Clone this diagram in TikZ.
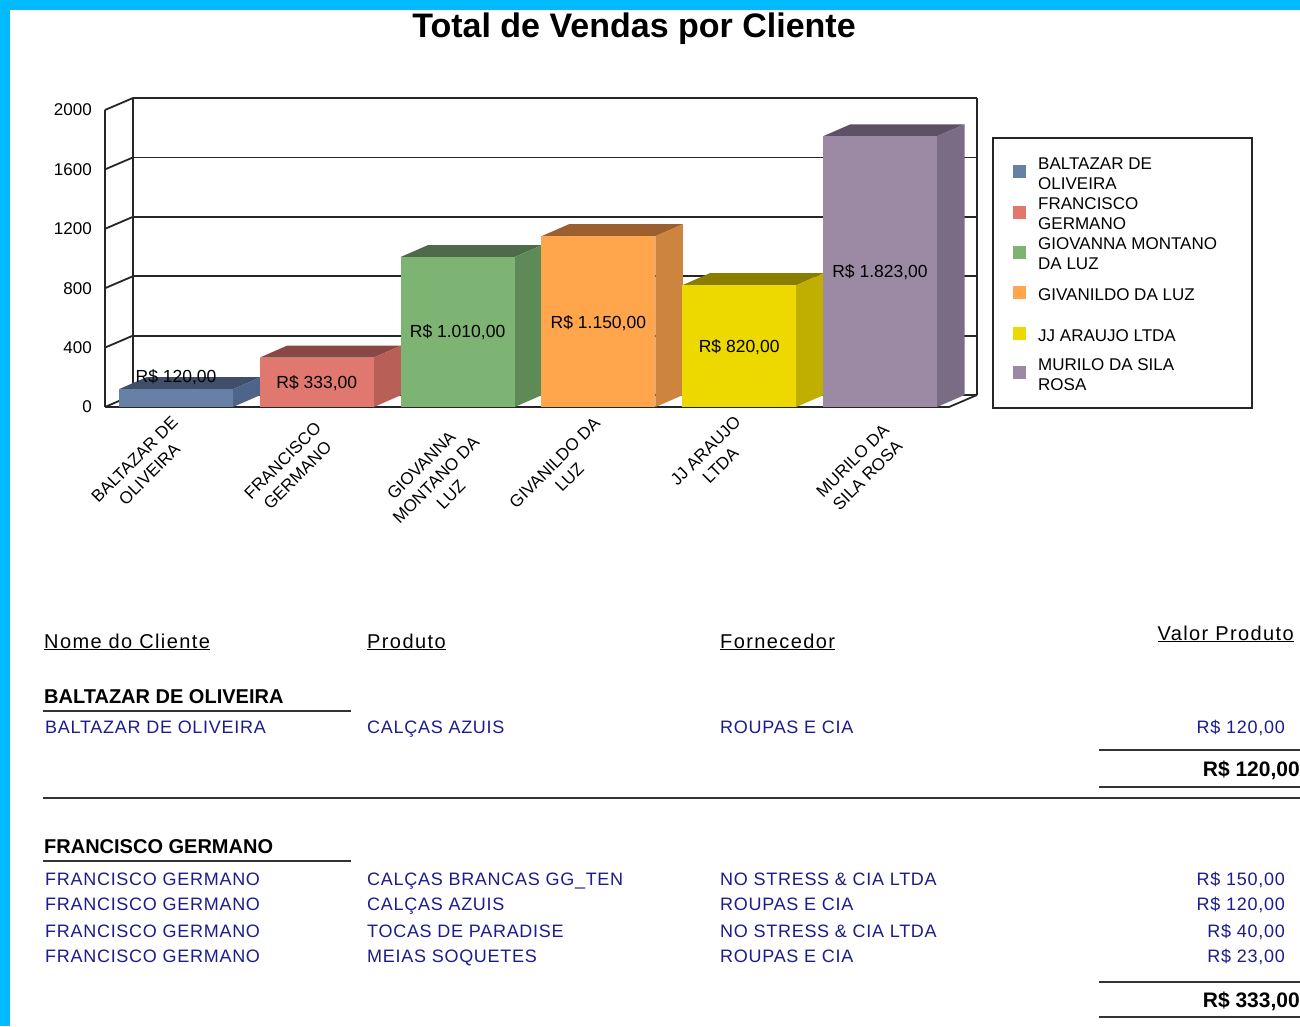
\documentclass[tikz,border=0pt]{standalone}
\usepackage{fontspec}
\setmainfont{Liberation Sans}
\newfontfamily\spaced[LetterSpace=4]{Liberation Sans}
\newfontfamily\wide[LetterSpace=7]{Liberation Sans}
\usepackage{tikz}
\usetikzlibrary{positioning}
\usetikzlibrary{calc}
\definecolor{frame}{RGB}{0,187,255}
\definecolor{navy}{RGB}{28,28,140}
\definecolor{bar0}{RGB}{102,128,166}\definecolor{bar0t}{RGB}{63,79,106}\definecolor{bar0s}{RGB}{78,100,136}
\definecolor{bar1}{RGB}{224,120,112}\definecolor{bar1t}{RGB}{138,72,69}\definecolor{bar1s}{RGB}{184,96,88}
\definecolor{bar2}{RGB}{125,179,115}\definecolor{bar2t}{RGB}{77,107,72}\definecolor{bar2s}{RGB}{94,138,88}
\definecolor{bar3}{RGB}{255,166,77}\definecolor{bar3t}{RGB}{156,96,48}\definecolor{bar3s}{RGB}{204,132,62}
\definecolor{bar4}{RGB}{237,216,0}\definecolor{bar4t}{RGB}{138,126,0}\definecolor{bar4s}{RGB}{192,174,0}
\definecolor{bar5}{RGB}{156,138,165}\definecolor{bar5t}{RGB}{94,80,101}\definecolor{bar5s}{RGB}{122,108,132}
\newcommand{\pxfont}[1]{\fontsize{#1}{#1}\selectfont}
\tikzstyle{gridline}=[line width=1.8pt,black!85]
\tikzstyle{tabline}=[line width=1.6pt,black!80]
\tikzstyle{ylbl}=[anchor=east,inner sep=0pt,font=\pxfont{17}]
\tikzstyle{vlbl}=[inner sep=0pt,font=\pxfont{17.5}]
\tikzstyle{catlbl}=[inner sep=0pt,rotate=45,align=center,font=\fontsize{17}{21}\selectfont]
\tikzstyle{legtxt}=[anchor=west,inner sep=0pt,align=left,font=\fontsize{17}{20}\selectfont]
\tikzstyle{hdr}=[anchor=base west,inner sep=0pt,font=\wide\pxfont{20}]
\tikzstyle{grp}=[anchor=base west,inner sep=0pt,font=\bfseries\pxfont{20}]
\tikzstyle{row}=[anchor=base west,inner sep=0pt,text=navy,font=\spaced\pxfont{18}]
\tikzstyle{rowval}=[row,anchor=base east]
\tikzstyle{total}=[anchor=base east,inner sep=0pt,font=\bfseries\pxfont{21}]

\begin{document}
\begin{tikzpicture}[x=1pt,y=-1pt]
\useasboundingbox (0,0) rectangle (1300,1026);
\fill[white] (0,0) rectangle (1300,1026);
\fill[frame] (0,0) rectangle (10,1026);
\fill[frame] (0,0) rectangle (1300,10);

\node[font=\bfseries\pxfont{34}] (title) at (634,29) {Total de Vendas por Cliente};

% walls and grid
\foreach \v in {0,400,...,2000}{
  \pgfmathsetmacro\gy{395-\v*0.1485}
  \draw[gridline] (133,\gy) -- (977,\gy);
  \draw[gridline] (105,\gy+12) -- (133,\gy);
  \node[ylbl] (y\v) at (92,\gy+12) {\v};
}
\draw[gridline] (133,98) -- (133,395);
\draw[gridline] (977,98) -- (977,395);
\draw[gridline] (105,110) -- (105,407);
\draw[gridline] (105,407) -- (949,407) -- (977,395);

% bars
\foreach \i/\v/\ly/\txt in {0/120/377/{R\$ 120,00},1/333/383/{R\$ 333,00},2/1010/332/{R\$ 1.010,00},
  3/1150/323/{R\$ 1.150,00},4/820/347/{R\$ 820,00},5/1823/272/{R\$ 1.823,00}}{
  \pgfmathsetmacro\bx{119+140.8*\i}
  \pgfmathsetmacro\bt{407-\v*0.1485}
  \fill[bar\i t] (\bx,\bt) -- (\bx+27.5,\bt-12) -- (\bx+141.5,\bt-12) -- (\bx+114,\bt) -- cycle;
  \fill[bar\i s] (\bx+114,407) -- (\bx+114,\bt) -- (\bx+141.5,\bt-12) -- (\bx+141.5,395) -- cycle;
  \fill[bar\i] (\bx,407) rectangle (\bx+114,\bt);
  \node[vlbl] (val\i) at (\bx+57,\ly) {\txt};
}

% category labels
\node[catlbl] (cat0) at (142,467) {BALTAZAR DE\\OLIVEIRA};
\node[catlbl] (cat1) at (290,468) {FRANCISCO\\GERMANO};
\node[catlbl] (cat2) at (436,480) {GIOVANNA\\MONTANO DA\\LUZ};
\node[catlbl] (cat3) at (562,470) {GIVANILDO DA\\LUZ};
\node[catlbl] (cat4) at (713,458) {JJ ARAUJO\\LTDA};
\node[catlbl] (cat5) at (860,468) {MURILO DA\\SILA ROSA};

% legend
\draw[line width=1.5pt,black!85] (993,138) rectangle (1252,408);
\foreach \i/\sy/\txt in {0/171.5/{BALTAZAR DE\\OLIVEIRA},1/212/{FRANCISCO\\GERMANO},2/252/{GIOVANNA MONTANO\\DA LUZ},
  3/292.5/{GIVANILDO DA LUZ},4/333.5/{JJ ARAUJO LTDA},5/372.5/{MURILO DA SILA\\ROSA}}{
  \fill[bar\i] (1013,\sy-6.5) rectangle (1026,\sy+6.5);
  \node[legtxt] (leg\i) at (1038,\sy+2) {\txt};
}

% table headers
\node[hdr] (hcli) at (44,648) {\underline{Nome do Cliente}};
\node[hdr] (hprod) at (367,648) {\underline{Produto}};
\node[hdr] (hforn) at (720,648) {\underline{Fornecedor}};
\node[hdr,anchor=base east] (hval) at (1294,640) {\underline{Valor Produto}};

% first client
\node[grp] (g1) at (44,703) {BALTAZAR DE OLIVEIRA};
\draw[tabline] (43,711) -- (351,711);
\node[row] (b1cli) at (45,733) {BALTAZAR DE OLIVEIRA};
\node[row] (b1prod) at (367,733) {CALÇAS AZUIS};
\node[row] (b1forn) at (720,733) {ROUPAS E CIA};
\node[rowval] (b1val) at (1285,733) {R\$ 120,00};
\draw[tabline] (1099,750) -- (1300,750);
\node[total] (t1) at (1300,776) {R\$ 120,00};
\draw[tabline] (1099,787) -- (1300,787);
\draw[tabline] (43,798) -- (1300,798);

% second client
\node[grp] (g2) at (44,853) {FRANCISCO GERMANO};
\draw[tabline] (43,861) -- (351,861);
\foreach \yb/\prod/\forn/\val [count=\n] in {885/{CALÇAS BRANCAS GG\_TEN}/{NO STRESS \& CIA LTDA}/{R\$ 150,00},
  910/{CALÇAS AZUIS}/{ROUPAS E CIA}/{R\$ 120,00},937/{TOCAS DE PARADISE}/{NO STRESS \& CIA LTDA}/{R\$ 40,00},
  962/{MEIAS SOQUETES}/{ROUPAS E CIA}/{R\$ 23,00}}{
  \node[row] (f\n cli) at (45,\yb) {FRANCISCO GERMANO};
  \node[row] (f\n prod) at (367,\yb) {\prod};
  \node[row] (f\n forn) at (720,\yb) {\forn};
  \node[rowval] (f\n val) at (1285,\yb) {\val};
}
\draw[tabline] (1099,982) -- (1300,982);
\node[total] (t2) at (1300,1007) {R\$ 333,00};
\draw[tabline] (1099,1017) -- (1300,1017);
\end{tikzpicture}
\end{document}
